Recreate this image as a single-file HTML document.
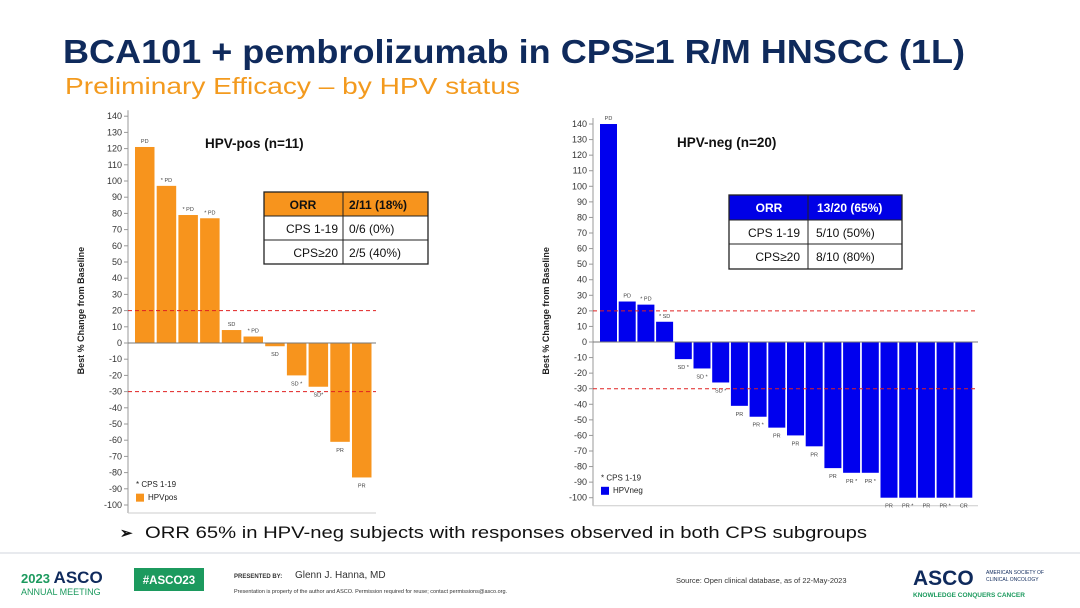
<!DOCTYPE html>
<html><head><meta charset="utf-8"><style>
html,body{margin:0;padding:0;background:#fff;}
svg{display:block;font-family:"Liberation Sans",sans-serif;}
</style></head><body>
<svg id="s" width="1080" height="608" viewBox="0 0 1080 608" xmlns="http://www.w3.org/2000/svg">
<rect width="1080" height="608" fill="#fff"/>
<text x="63" y="63" font-size="33" font-weight="bold" fill="#0f2a5c" textLength="902" lengthAdjust="spacingAndGlyphs">BCA101 + pembrolizumab in CPS≥1 R/M HNSCC (1L)</text>
<text x="65" y="94" font-size="23" fill="#f39a1e" textLength="455" lengthAdjust="spacingAndGlyphs">Preliminary Efficacy – by HPV status</text>
<g id="L"></g><g id="R"></g>
<text x="205" y="148" font-size="13.5" font-weight="bold" fill="#111">HPV-pos (n=11)</text>
<text x="677" y="147" font-size="13.5" font-weight="bold" fill="#111">HPV-neg (n=20)</text>
<g font-size="12" fill="#111">
<rect x="264" y="192" width="164" height="24" fill="#f7941d"/>
<rect x="264" y="192" width="164" height="72" fill="none" stroke="#222" stroke-width="1.3"/>
<line x1="264" y1="216" x2="428" y2="216" stroke="#222"/><line x1="264" y1="240" x2="428" y2="240" stroke="#222"/>
<line x1="343" y1="192" x2="343" y2="264" stroke="#222"/>
<text x="303" y="209" font-weight="bold" text-anchor="middle">ORR</text>
<text x="349" y="209" font-weight="bold">2/11 (18%)</text>
<text x="338" y="233" text-anchor="end">CPS 1-19</text><text x="349" y="233">0/6 (0%)</text>
<text x="338" y="257" text-anchor="end">CPS≥20</text><text x="349" y="257">2/5 (40%)</text>
</g>
<g font-size="12" fill="#111">
<rect x="729" y="195" width="173" height="25" fill="#0000e6"/>
<rect x="729" y="195" width="173" height="74" fill="none" stroke="#222" stroke-width="1.3"/>
<line x1="729" y1="220" x2="902" y2="220" stroke="#222"/><line x1="729" y1="244" x2="902" y2="244" stroke="#222"/>
<line x1="808" y1="195" x2="808" y2="269" stroke="#222"/>
<text x="769" y="212" font-weight="bold" text-anchor="middle" fill="#fff">ORR</text>
<text x="817" y="212" font-weight="bold" fill="#fff">13/20 (65%)</text>
<text x="800" y="237" text-anchor="end">CPS 1-19</text><text x="816" y="237">5/10 (50%)</text>
<text x="800" y="261" text-anchor="end">CPS≥20</text><text x="816" y="261">8/10 (80%)</text>
</g>
<text x="120" y="538" font-size="15" font-weight="bold" fill="#111">➢</text>
<text x="145" y="538" font-size="17" fill="#111" textLength="722" lengthAdjust="spacingAndGlyphs">ORR 65% in HPV-neg subjects with responses observed in both CPS subgroups</text>
<line x1="0" y1="553" x2="1080" y2="553" stroke="#e8eaee" stroke-width="2"/>
<text x="21" y="583" font-size="13" font-weight="bold" fill="#1c9a5e">2023 <tspan fill="#0f2a5c" font-size="17">ASCO</tspan></text>
<text x="21" y="595" font-size="9" fill="#1c9a5e">ANNUAL MEETING</text>
<rect x="134" y="568" width="70" height="23" fill="#1c9a5e"/>
<text x="169" y="584" font-size="11.5" font-weight="bold" fill="#fff" text-anchor="middle">#ASCO23</text>
<text x="234" y="578" font-size="6" font-weight="bold" fill="#333">PRESENTED BY:</text>
<text x="295" y="578" font-size="10" fill="#333">Glenn J. Hanna, MD</text>
<text x="234" y="593" font-size="5.5" fill="#333">Presentation is property of the author and ASCO. Permission required for reuse; contact permissions@asco.org.</text>
<text x="676" y="583" font-size="7.5" fill="#333">Source: Open clinical database, as of 22-May-2023</text>
<text x="913" y="585" font-size="21" font-weight="bold" fill="#0f2a5c">ASCO</text>
<text x="986" y="574" font-size="5" fill="#0f2a5c">AMERICAN SOCIETY OF</text>
<text x="986" y="581" font-size="5" fill="#0f2a5c">CLINICAL ONCOLOGY</text>
<text x="913" y="597" font-size="6.5" font-weight="bold" fill="#1c9a5e">KNOWLEDGE CONQUERS CANCER</text>
</svg>
<script>
function chart(gid,o){
 var g=document.getElementById(gid),h='';
 function Y(v){return o.y0-v*o.k;}
 h+='<line x1="'+o.ax+'" y1="'+(Y(140)-6)+'" x2="'+o.ax+'" y2="'+(Y(-100)+8)+'" stroke="#999"/>';
 for(var v=140;v>=-100;v-=10){var y=Y(v);
  h+='<line x1="'+(o.ax-4)+'" y1="'+y+'" x2="'+o.ax+'" y2="'+y+'" stroke="#999"/>';
  h+='<text x="'+(o.ax-6)+'" y="'+(y+3)+'" font-size="9" fill="#333" text-anchor="end">'+v+'</text>';}
 h+='<line x1="'+o.ax+'" y1="'+(Y(-100)+8)+'" x2="'+o.xe+'" y2="'+(Y(-100)+8)+'" stroke="#ccc"/>';
 for(var i=0;i<o.v.length;i++){var x=o.x0+i*o.sp,v=o.v[i],y=Y(Math.max(v,0)),hh=Math.abs(v)*o.k;
  h+='<rect x="'+x+'" y="'+y+'" width="'+o.w+'" height="'+hh+'" fill="'+o.c+'"/>';
  var ly=v>=0?y-4:Y(v)+10;
  h+='<text x="'+(x+o.w/2)+'" y="'+ly+'" font-size="5.5" fill="#444" text-anchor="middle">'+o.l[i]+'</text>';}
 h+='<line x1="'+o.ax+'" y1="'+o.y0+'" x2="'+o.xe+'" y2="'+o.y0+'" stroke="#777"/>';
 [20,-30].forEach(function(v){h+='<line x1="'+o.ax+'" y1="'+Y(v)+'" x2="'+o.xe+'" y2="'+Y(v)+'" stroke="#e02020" stroke-dasharray="4,3"/>';});
 var cx=o.ax-44,cy=(Y(140)+Y(-100))/2;
 h+='<text transform="translate('+cx+','+cy+') rotate(-90)" font-size="9" font-weight="bold" fill="#222" text-anchor="middle">Best % Change from Baseline</text>';
 h+='<text x="'+(o.ax+8)+'" y="'+(Y(-89))+'" font-size="8" fill="#222">* CPS 1-19</text>';
 h+='<rect x="'+(o.ax+8)+'" y="'+(Y(-93))+'" width="8" height="8" fill="'+o.c+'"/>';
 h+='<text x="'+(o.ax+20)+'" y="'+(Y(-97))+'" font-size="8" fill="#222">'+o.n+'</text>';
 g.innerHTML=h;}
chart('L',{ax:128,y0:343,k:1.62,xe:376,x0:135,sp:21.7,w:19.5,c:'#f7941d',n:'HPVpos',
 v:[121,97,79,77,8,4,-2,-20,-27,-61,-83],l:['PD','* PD','* PD','* PD','SD','* PD','SD','SD *','SD*','PR','PR']});
chart('R',{ax:593,y0:342,k:1.557,xe:978,x0:600,sp:18.7,w:17,c:'#0000ee',n:'HPVneg',
 v:[140,26,24,13,-11,-17,-26,-41,-48,-55,-60,-67,-81,-84,-84,-100,-100,-100,-100,-100],
 l:['PD','PD','* PD','* SD','SD *','SD *','SD *','PR','PR *','PR','PR','PR','PR','PR *','PR *','PR','PR *','PR','PR *','CR']});
</script>
</body></html>
